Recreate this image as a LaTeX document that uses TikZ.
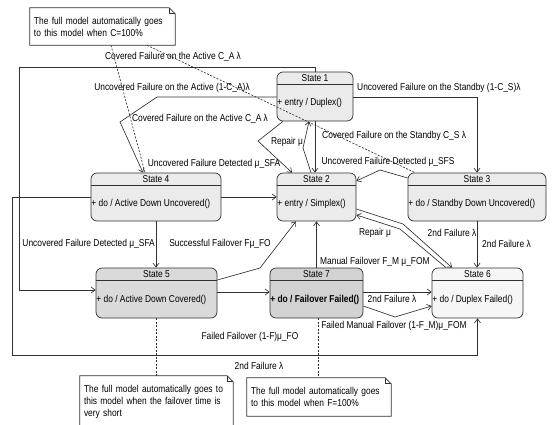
\documentclass[tikz,border=0pt]{standalone}
\usepackage{fontspec}
\setmainfont{Liberation Sans}[FakeStretch=0.84]
\usetikzlibrary{arrows.meta}
\definecolor{stlight}{HTML}{EBEBEB}
\definecolor{stmid}{HTML}{DADADA}
\definecolor{stdark}{HTML}{D2D2D2}
\definecolor{stpale}{HTML}{F6F6F6}
\definecolor{ink}{HTML}{303030}
\tikzset{
  state/.style={draw=ink,line width=0.7pt,rounded corners=6pt,inner sep=0pt},
  lbl/.style={font=\fontsize{10}{12}\selectfont,inner sep=0pt,text=black},
  trans/.style={draw=ink,line width=0.65pt,-{Straight Barb[length=4pt,width=6pt]}},
  notebox/.style={draw=ink,line width=0.65pt},
  notelink/.style={draw=ink,line width=0.65pt,dash pattern=on 2pt off 1.5pt},
  note/.style={lbl,inner xsep=4pt,align=left}
}
% name, left, top, right, bottom, title, body, fill
\newcommand{\umlstate}[8]{%
  \pgfmathsetmacro\stw{#4-#2}%
  \pgfmathsetmacro\sth{#5-#3}%
  \node[state,fill=#8,minimum width=\stw pt,minimum height=\sth pt] (#1) at ({(#2+#4)/2},{(#3+#5)/2}) {};
  \draw[draw=ink,line width=0.7pt] ([yshift=-13pt]#1.north west) -- ([yshift=-13pt]#1.north east);
  \node[lbl] (#1t) at ([yshift=-6.5pt]#1.north) {#6};
  \node[lbl,anchor=west] (#1b) at ([xshift=0.5pt,yshift=-6.5pt]#1.west) {#7};
}

\begin{document}
\begin{tikzpicture}[x=1pt,y=-1pt]
\useasboundingbox (0,0) rectangle (552,424);
%states
\umlstate{s1}{277}{72}{353}{121}{State 1}{+ entry / Duplex()}{stlight}
\umlstate{s2}{277}{173}{356}{221}{State 2}{+ entry / Simplex()}{stlight}
\umlstate{s3}{408}{173}{546}{221}{State 3}{+ do / Standby Down Uncovered()}{stlight}
\umlstate{s4}{91}{173}{221}{221}{State 4}{+ do / Active Down Uncovered()}{stlight}
\umlstate{s5}{96}{268}{217}{318}{State 5}{+ do / Active Down Covered()}{stmid}
\umlstate{s7}{270}{268}{363}{318}{State 7}{\bfseries + do / Failover Failed()}{stdark}
\umlstate{s6}{432}{268}{523}{318}{State 6}{+ do / Duplex Failed()}{stpale}
%notes
\node[note,text width=137pt,minimum height=37pt] (n1) at (102.5,26.5)
{The full model automatically goes\\to this model when C=100\%};
\node[note,text width=145pt,minimum height=52pt] (n2) at (156.5,402)
{The full model automatically goes to\\this model when the failover time is\\very short};
\node[note,text width=136pt,minimum height=38pt] (n3) at (319,397)
{The full model automatically goes\\to this model when F=100\%};
\foreach \n in {n1,n2,n3}
{
\draw[notebox] (\n.north west) -- ([xshift=-6pt]\n.north east) -- ([yshift=-6pt]\n.north east)
-- (\n.south east) -- (\n.south west) -- cycle;
\draw[notebox] ([xshift=-6pt]\n.north east) -- ([xshift=-6pt,yshift=-6pt]\n.north east)
-- ([yshift=-6pt]\n.north east);
}
%note links
\draw[notelink] (111,0 |- n1.south) -- (145,0 |- s4.north);
\draw[notelink] (147,0 |- n1.south) -- (415,0 |- s3.north);
\draw[notelink] (s5.south) -- (s5.south |- n2.north);
\draw[notelink] (318,0 |- s7.south) -- (318,0 |- n3.north);
%transitions from state 1
\draw[trans] (s1.north) -- (s1.north |- 0,67) -| (19,290) -- (s5.west |- 0,290);
\node[lbl] (l1) at (173,57) {Covered Failure on the Active C\_A λ};
\draw[trans] (s1.west |- 0,97) -- (157,97) -- (120,122) -- (143,0 |- s4.north);
\node[lbl] (l2) at (172,88) {Uncovered Failure on the Active (1-C\_A)λ};
\draw[trans] (283,0 |- s1.south) -- (258,141) -- (292,0 |- s2.north);
\node[lbl] (l3) at (200,119) {Covered Failure on the Active C\_A λ};
\draw[trans] (s1.south) -- (s1.south |- s2.north);
\node[lbl,anchor=west] (l5) at (322,136) {Covered Failure on the Standby C\_S λ};
\draw[trans] (s1.east |- 0,97) -| (s3.north);
\node[lbl,anchor=west] (l6) at (357,88) {Uncovered Failure on the Standby (1-C\_S)λ};
%repair
\draw[trans] (311,0 |- s2.north) -- (303,148) -- (309,0 |- s1.south);
\node[lbl] (l4) at (287,142) {Repair μ};
\draw[trans] (446,0 |- s6.north) -- (400,229) -- (s2.east |- 0,215);
\node[lbl] (l15) at (375,233) {Repair μ};
%detection and failover
\draw[trans] (s4.east |- 0,197) -- (s2.west |- 0,197);
\node[lbl] (l7) at (214,164) {Uncovered Failure Detected μ\_SFA};
\draw[trans] (s3.west |- 0,178) -- (380,170) -- (s2.east |- 0,181);
\node[lbl] (l8) at (388,162) {Uncovered Failure Detected μ\_SFS};
\draw[trans] (s4.south) -- (s4.south |- s5.north);
\node[lbl,anchor=east] (l9) at (155,244) {Uncovered Failure Detected μ\_SFA};
\draw[trans] (s5.east |- 0,280) -- (260,268) -- (296,0 |- s2.south);
\node[lbl] (l10) at (220,244) {Successful Failover Fμ\_FO};
\draw[trans] (s5.east |- 0,292) -- (s7.west |- 0,292);
\node[lbl] (l11) at (250,337) {Failed Failover (1-F)μ\_FO};
\draw[trans] (s7.north) -- (s7.north |- s2.south);
\node[lbl,anchor=west] (l12) at (320,262) {Manual Failover F\_M μ\_FOM};
\draw[trans] (s7.east |- 0,306) -- (395,317) -- (s6.west |- 0,306);
\node[lbl] (l14) at (394,326) {Failed Manual Failover (1-F\_M)μ\_FOM};
%second failures
\draw[trans] (s7.east |- 0,292) -- (s6.west |- 0,292);
\node[lbl] (l13) at (392,299) {2nd Failure λ};
\draw[trans] (s2.east |- 0,209) -- (403,224) -- (452,0 |- s6.north);
\node[lbl] (l16) at (452,233) {2nd Failure λ};
\draw[trans] (s3.south) -- (s3.south |- s6.north);
\node[lbl,anchor=west] (l17) at (482,244) {2nd Failure λ};
\draw[trans] (s4.west |- 0,197) -- (12,197) |- (s6.south |- 0,355) -- (s6.south);
\node[lbl] (l18) at (259,366) {2nd Failure λ};
\end{tikzpicture}
\end{document}
